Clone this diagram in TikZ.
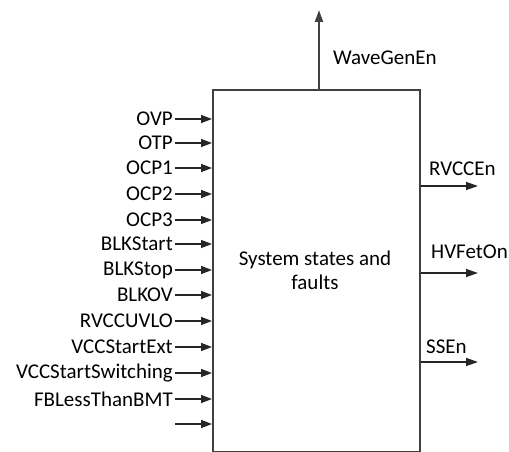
\documentclass[tikz,border=0pt]{standalone}
\usepackage{fontspec}
\setmainfont{Carlito}
\usetikzlibrary{arrows.meta}
\definecolor{boxgray}{HTML}{404040}
\begin{document}
\begin{tikzpicture}[x=1pt,y=-1pt,
  lbl/.style={font=\fontsize{21}{24}\selectfont, text=black, inner sep=0pt},
  inarrow/.style={draw=black!85, line width=1.4pt, -{Triangle[length=11pt,width=8pt]}},
  outarrow/.style={draw=black!85, line width=1.4pt, -{Triangle[length=12pt,width=8pt]}},
  sysbox/.style={draw=boxgray, line width=2pt, minimum width=207pt, minimum height=362pt, inner sep=0pt}]
\useasboundingbox (0,0) rectangle (509,452);
\node[sysbox] (box) at (316.5,271) {};
\node[lbl, align=center, font=\fontsize{21}{24}\selectfont] (title) at (315,270) {System states and\\faults};
% up output
\coordinate (upend) at (319,10);
\draw[outarrow, draw=boxgray, line width=2pt] (box.north -| upend) -- (upend);
\node[lbl, anchor=west] (wave) at (333,58) {WaveGenEn};
% inputs
\foreach \name/\yy/\txt in {a/119/OVP, b/143/OTP, c/168/OCP1, d/194/OCP2, e/220/OCP3, f/244/BLKStart, g/270/BLKStop, h/295/BLKOV, i/321/RVCCUVLO, j/347/VCCStartExt, k/373/VCCStartSwitching, l/399/FBLessThanBMT}{
  \node[lbl, anchor=east] (t\name) at (173,\yy) {\txt};
  \coordinate (s\name) at (175,\yy);
  \draw[inarrow] (s\name) -- (box.west |- s\name);
}
\coordinate (sm) at (175,424);
\draw[inarrow] (sm) -- (box.west |- sm);
% outputs
\coordinate (o1) at (478,186);
\coordinate (o2) at (478,273);
\coordinate (o3) at (478,362);
\draw[outarrow] (box.east |- o1) -- (o1);
\draw[outarrow] (box.east |- o2) -- (o2);
\draw[outarrow] (box.east |- o3) -- (o3);
\node[lbl, anchor=west] (rvcc) at (429,169) {RVCCEn};
\node[lbl, anchor=west] (hvfet) at (431,252) {HVFetOn};
\node[lbl, anchor=west] (ssen) at (426,347) {SSEn};
\end{tikzpicture}
\end{document}
